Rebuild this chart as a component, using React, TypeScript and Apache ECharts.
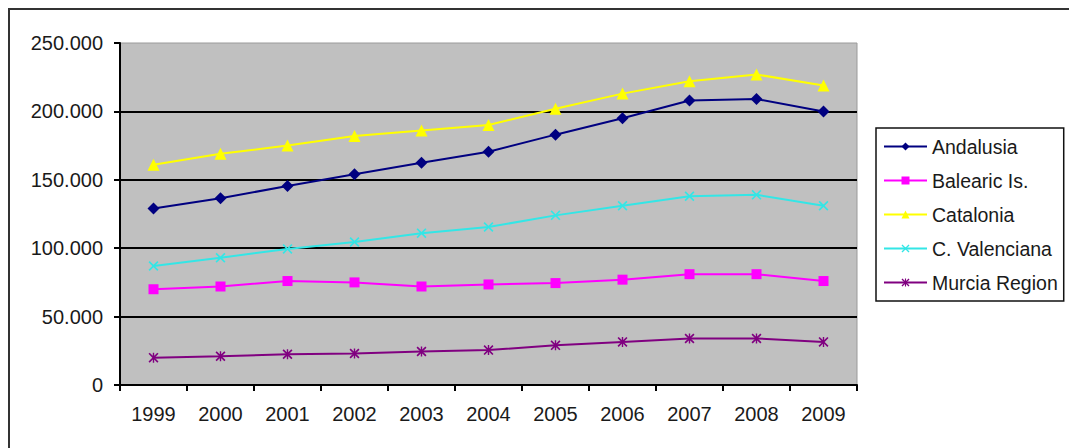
import React, { useEffect, useRef } from "react";
import * as echarts from "echarts";

const years = ["1999", "2000", "2001", "2002", "2003", "2004", "2005", "2006", "2007", "2008", "2009"];
const andalusia = [129000, 136500, 145500, 154000, 162500, 170500, 183000, 195000, 208000, 209000, 200000];
const balearic = [70000, 72000, 76000, 75000, 72000, 73500, 74500, 77000, 81000, 81000, 76000];
const catalonia = [161000, 169000, 175000, 182000, 186000, 190000, 202000, 213000, 222000, 227000, 219000];
const valenciana = [87000, 93000, 99500, 104500, 111000, 115500, 124000, 131000, 138000, 139000, 131000];
const murcia = [20000, 21000, 22500, 23000, 24500, 25500, 29000, 31500, 34000, 34000, 31500];

const seriesNames = ["Andalusia", "Balearic Is.", "Catalonia", "C. Valenciana", "Murcia Region"];
const seriesColors = ["#000080", "#ff00ff", "#ffff00", "#33e6e6", "#800080"];

const X_SYMBOL = "path://M0,1.2L1.2,0L5,3.8L8.8,0L10,1.2L6.2,5L10,8.8L8.8,10L5,6.2L1.2,10L0,8.8L3.8,5Z";
const STAR_SYMBOL =
  "path://M0,1.2L1.2,0L5,3.8L8.8,0L10,1.2L6.2,5L10,8.8L8.8,10L5,6.2L1.2,10L0,8.8L3.8,5ZM4.3,0L5.7,0L5.7,10L4.3,10Z";

const FONT = "'Liberation Sans', Arial, sans-serif";

export default function App() {
  const ref = useRef<HTMLDivElement>(null);
  useEffect(() => {
    if (!ref.current) return;
    document.documentElement.style.overflow = "hidden";
    document.body.style.overflow = "hidden";
    const chart = echarts.init(ref.current, null, { renderer: "svg" });
    const dataSets = [andalusia, balearic, catalonia, valenciana, murcia];
    const symbols = ["diamond", "rect", "triangle", X_SYMBOL, STAR_SYMBOL];
    const sizes = [12, 10, 12, 10, 10];
    chart.setOption({
      animation: false,
      backgroundColor: "#ffffff",
      textStyle: { fontFamily: FONT },
      grid: {
        left: 120,
        right: 212,
        top: 43,
        bottom: 63,
        show: true,
        backgroundColor: "#c0c0c0",
        borderColor: "#9a9a9a",
        borderWidth: 1,
      },
      legend: {
        orient: "vertical",
        left: 876,
        top: 128,
        padding: [8, 6, 8, 7],
        itemGap: 13,
        itemWidth: 43,
        itemHeight: 10,
        borderColor: "#111",
        borderWidth: 1.5,
        data: seriesNames,
        textStyle: { fontFamily: FONT, fontSize: 19.5, color: "#1a1a1a", lineHeight: 21 },
      },
      xAxis: {
        type: "category",
        data: years,
        axisLine: { lineStyle: { color: "#000", width: 2 } },
        axisTick: { show: true, length: 6, lineStyle: { color: "#000", width: 2 } },
        axisLabel: { margin: 19, fontSize: 20, color: "#1a1a1a", fontFamily: FONT },
        splitLine: { show: false },
      },
      yAxis: {
        type: "value",
        min: 0,
        max: 250000,
        interval: 50000,
        axisLine: { show: true, lineStyle: { color: "#000", width: 2 } },
        axisTick: { show: true, length: 6, lineStyle: { color: "#000", width: 2 } },
        axisLabel: {
          margin: 17,
          fontSize: 20,
          color: "#1a1a1a",
          fontFamily: FONT,
          formatter: (v: number) => (v === 0 ? "0" : `${v / 1000}.000`),
        },
        splitLine: { show: true, showMinLine: false, showMaxLine: false, lineStyle: { color: "#000", width: 2 } },
      },
      series: seriesNames.map((name, i) => ({
        name,
        type: "line",
        data: dataSets[i],
        symbol: symbols[i],
        symbolSize: sizes[i],
        showSymbol: true,
        lineStyle: { color: seriesColors[i], width: 2 },
        itemStyle: { color: seriesColors[i] },
        emphasis: { disabled: true },
      })),
      graphic: [
        {
          type: "rect",
          shape: { x: 9, y: 9, width: 1200, height: 600 },
          style: { fill: "none", stroke: "#333", lineWidth: 2 },
          silent: true,
        },
      ],
    });
    return () => chart.dispose();
  }, []);
  return <div ref={ref} style={{ position: "fixed", left: 0, top: 0, width: 1069, height: 448 }} />;
}
